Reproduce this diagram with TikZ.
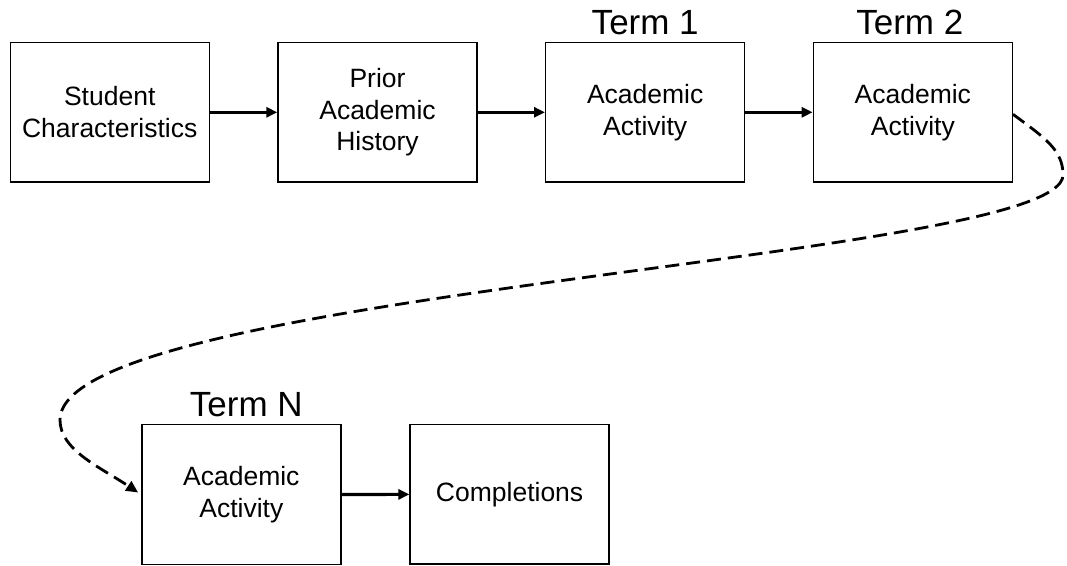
\documentclass[tikz,border=0pt]{standalone}
\usepackage{fontspec}
\setmainfont{Liberation Sans}
\usetikzlibrary{arrows.meta}
\begin{document}
\begin{tikzpicture}[x=1pt,y=-1pt,
  box/.style={draw, line width=1.4pt, minimum width=199pt, minimum height=139.5pt, inner sep=0pt, align=center, font=\fontsize{26.5}{31.7}\selectfont},
  term/.style={anchor=base, inner sep=0pt, font=\fontsize{35}{40}\selectfont},
  flow/.style={line width=3.2pt, -{Triangle[length=11pt,width=10pt]}},
  dashflow/.style={line width=2.8pt, dash pattern=on 14pt off 7pt, -{Triangle[length=12pt,width=11pt]}},
]
\useasboundingbox (0,0) rectangle (1067,565);
\node[box] (b1) at (109.7,112.3) {Student\\Characteristics};
\node[box] (b2) at (377.5,112.3) {Prior\\Academic\\History};
\node[box] (b3) at (645.2,112.3) {Academic\\Activity};
\node[box] (b4) at (912.8,112.3) {Academic\\Activity};
\node[box] (b5) at (241.3,494.5) {Academic\\Activity};
\node[box] (b6) at (509.6,494.3) {Completions};
\node[term] (t1) at ([yshift=7.5pt]b3.north) {Term 1};
\node[term] (t2) at ([xshift=-3pt,yshift=7.5pt]b4.north) {Term 2};
\node[term] (tn) at ([xshift=5pt,yshift=7.7pt]b5.north) {Term N};
\draw[flow] (b1) -- (b2);
\draw[flow] (b2) -- (b3);
\draw[flow] (b3) -- (b4);
\draw[flow] (b5) -- (b6);
\draw[dashflow] ([yshift=-2pt]b4.east) .. controls (1045,138) and (1063,150) .. (1063,175)
  .. controls (1063,260) and (60,290) .. (60,420)
  .. controls (60,450) and (100,467) .. ([xshift=-3pt,yshift=2pt]b5.west);
\end{tikzpicture}
\end{document}
